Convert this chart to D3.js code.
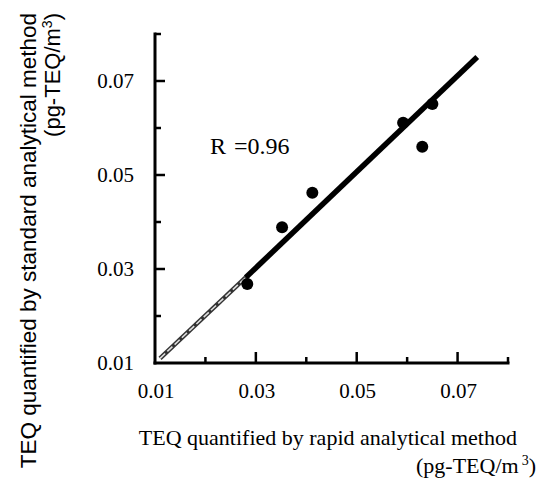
<!DOCTYPE html>
<html>
<head>
<meta charset="utf-8">
<script src="https://cdn.jsdelivr.net/npm/d3@7"></script>
<style>
  html, body { margin: 0; padding: 0; background: #fff; }
  svg { display: block; }
</style>
</head>
<body>
<svg id="chart" width="539" height="482"></svg>
<script>
// ---- data ----
const rapid    = [0.0283, 0.0352, 0.0412, 0.0592, 0.0630, 0.0650];
const standard = [0.0268, 0.0389, 0.0462, 0.0611, 0.0560, 0.0651];
const fitX = [0.0110, 0.0280, 0.0739];
const fitY = [0.0110, 0.0282, 0.0751];
const majorTicks = [0.01, 0.03, 0.05, 0.07];
const minorTicks = [0.02, 0.04, 0.06, 0.08];
const xTitle = ["TEQ quantified by rapid analytical method", "(pg-TEQ/m", "3", ")"];
const yTitle = ["TEQ quantified by standard analytical method", "(pg-TEQ/m", "3", ")"];
const rLabel = ["R", "=0.96"];

const svg = d3.select("#chart");
const x = d3.scaleLinear().domain([0.01, 0.08]).range([155, 508]);
const y = d3.scaleLinear().domain([0.01, 0.08]).range([363, 34]);
const serif = "'Liberation Serif','Times New Roman',serif";
const sans = "'Liberation Sans',Arial,sans-serif";
const fmt = d3.format(".2f");

// axis lines
const ax = svg.append("g").attr("stroke", "#000").attr("stroke-width", 3).attr("stroke-linecap", "square");
ax.append("line").attr("x1", x(0.01)).attr("x2", x(0.08)).attr("y1", y(0.01)).attr("y2", y(0.01));
ax.append("line").attr("x1", x(0.01)).attr("x2", x(0.01)).attr("y1", y(0.01)).attr("y2", y(0.08));
// x ticks
ax.selectAll("line.xmaj").data(majorTicks.slice(1)).enter().append("line").attr("class", "xmaj")
  .attr("x1", d => x(d)).attr("x2", d => x(d)).attr("y1", y(0.01)).attr("y2", y(0.01) - 11)
  .attr("stroke-linecap", "butt").attr("stroke-width", 2.5);
ax.selectAll("line.xmin").data(minorTicks).enter().append("line").attr("class", "xmin")
  .attr("x1", d => x(d)).attr("x2", d => x(d)).attr("y1", y(0.01)).attr("y2", y(0.01) - 6)
  .attr("stroke-linecap", "butt").attr("stroke-width", 2.5);
// y ticks
ax.selectAll("line.ymaj").data(majorTicks.slice(1)).enter().append("line").attr("class", "ymaj")
  .attr("y1", d => y(d)).attr("y2", d => y(d)).attr("x1", x(0.01)).attr("x2", x(0.01) + 10)
  .attr("stroke-linecap", "butt").attr("stroke-width", 2.5);
ax.selectAll("line.ymin").data(minorTicks).enter().append("line").attr("class", "ymin")
  .attr("y1", d => y(d)).attr("y2", d => y(d)).attr("x1", x(0.01)).attr("x2", x(0.01) + 6)
  .attr("stroke-linecap", "butt").attr("stroke-width", 2.5);

// tick labels
svg.selectAll("text.xl").data(majorTicks).enter().append("text").attr("class", "xl")
  .attr("x", d => x(d) + 1).attr("y", 398).attr("text-anchor", "middle")
  .style("font-family", serif).style("font-size", "21px").text(fmt);
svg.selectAll("text.yl").data(majorTicks).enter().append("text").attr("class", "yl")
  .attr("x", 134).attr("y", d => y(d) + 7).attr("text-anchor", "end")
  .style("font-family", serif).style("font-size", "21px").text(fmt);

// fit line: faint first segment, heavy remainder
const seg1 = [[fitX[0], fitY[0]], [fitX[1], fitY[1]]];
const seg2 = [[fitX[1], fitY[1]], [fitX[2], fitY[2]]];
const line = d3.line().x(d => x(d[0])).y(d => y(d[1]));
svg.append("path").attr("d", line(seg1)).attr("stroke", "#333").attr("stroke-width", 4.5).attr("fill", "none");
svg.append("path").attr("d", line(seg1)).attr("stroke", "#ddd").attr("stroke-width", 1.6)
  .attr("stroke-dasharray", "7,3").attr("fill", "none");
svg.append("path").attr("d", line(seg2)).attr("stroke", "#000").attr("stroke-width", 5.5)
  .attr("fill", "none");

// points
svg.selectAll("circle.pt").data(rapid.map((v, i) => [v, standard[i]])).enter()
  .append("circle").attr("class", "pt")
  .attr("cx", d => x(d[0])).attr("cy", d => y(d[1])).attr("r", 6).attr("fill", "#000");

// R label
const rt = svg.append("text").attr("x", 210).attr("y", 154)
  .style("font-family", serif).style("font-size", "24px").attr("fill", "#000");
rt.append("tspan").text(rLabel[0]);
rt.append("tspan").attr("x", 234).text(rLabel[1]);

// x title
svg.append("text").attr("x", 517).attr("y", 445).attr("text-anchor", "end")
  .style("font-family", serif).style("font-size", "22px").text(xTitle[0]);
const xt2 = svg.append("text").attr("x", 536).attr("y", 473).attr("text-anchor", "end")
  .style("font-family", serif).style("font-size", "22px");
xt2.append("tspan").text(xTitle[1]);
xt2.append("tspan").attr("dx", 3).attr("dy", -8).style("font-size", "14px").text(xTitle[2]);
xt2.append("tspan").attr("dy", 8).text(xTitle[3]);

// y title
svg.append("text").attr("transform", "translate(36,13) rotate(-90)").attr("text-anchor", "end")
  .style("font-family", sans).style("font-size", "22.5px").text(yTitle[0]);
const yt2 = svg.append("text").attr("transform", "translate(60,13) rotate(-90)").attr("text-anchor", "end")
  .style("font-family", sans).style("font-size", "22px");
yt2.append("tspan").text(yTitle[1]);
yt2.append("tspan").attr("dy", -8).style("font-size", "14px").text(yTitle[2]);
yt2.append("tspan").attr("dy", 8).text(yTitle[3]);
</script>
</body>
</html>
